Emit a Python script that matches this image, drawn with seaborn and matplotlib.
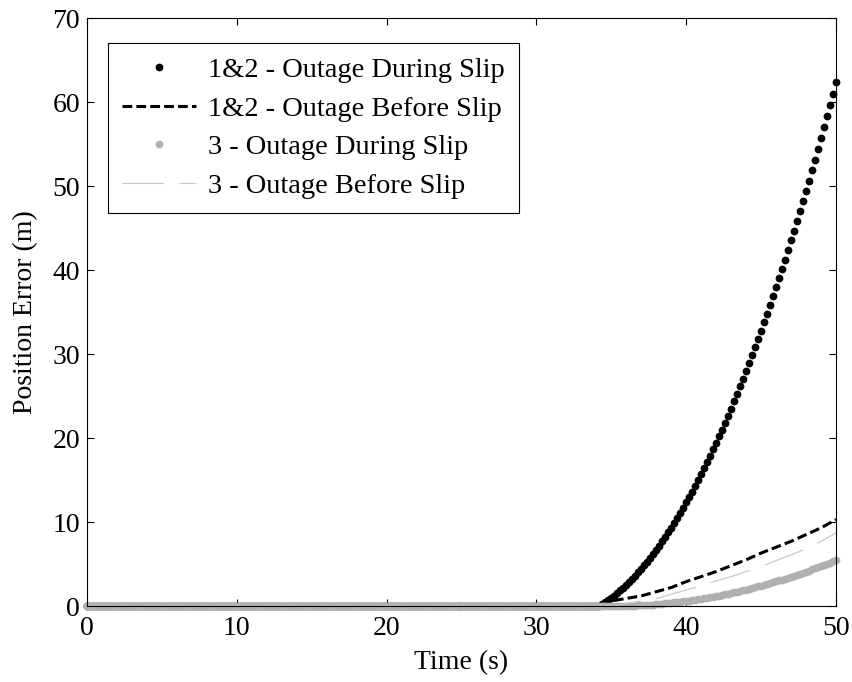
import numpy as np
import matplotlib
matplotlib.use("Agg")
import matplotlib.pyplot as plt
import seaborn as sns

# ---------------- data ----------------
# dotted series sampled every 0.2 s from 0 to 50 s
time_dots = np.round(np.arange(0, 251) * 0.2, 1)

# 1&2 - Outage During Slip : zero until 34.2 s, then values for 34.4 .. 50.0 s
s12_during_rise = [
    0.22, 0.46, 0.71, 0.97, 1.25, 1.55, 1.86, 2.18, 2.52, 2.87,
    3.24, 3.62, 4.01, 4.42, 4.85, 5.29, 5.74, 6.21, 6.69, 7.19,
    7.70, 8.23, 8.77, 9.33, 9.90, 10.49, 11.09, 11.70, 12.33, 12.97,
    13.63, 14.30, 14.99, 15.69, 16.41, 17.14, 17.88, 18.64, 19.42, 20.21,
    21.01, 21.83, 22.66, 23.51, 24.37, 25.25, 26.14, 27.05, 27.97, 28.90,
    29.85, 30.81, 31.79, 32.78, 33.79, 34.81, 35.85, 36.90, 37.97, 39.05,
    40.14, 41.25, 42.38, 43.52, 44.67, 45.84, 47.02, 48.22, 49.43, 50.65,
    51.89, 53.15, 54.42, 55.70, 57.00, 58.31, 59.64, 60.98, 62.34,
]
s12_during = [0.0] * 172 + s12_during_rise

# 3 - Outage During Slip : zero until 35.8 s, then values for 36.0 .. 50.0 s
s3_during_rise = [
    0.00, 0.01, 0.03, 0.04, 0.06, 0.08, 0.10, 0.12, 0.15, 0.17,
    0.20, 0.23, 0.27, 0.30, 0.34, 0.38, 0.42, 0.46, 0.50, 0.55,
    0.60, 0.65, 0.70, 0.75, 0.81, 0.87, 0.93, 0.99, 1.05, 1.12,
    1.18, 1.25, 1.33, 1.40, 1.47, 1.55, 1.63, 1.71, 1.79, 1.88,
    1.96, 2.05, 2.14, 2.23, 2.33, 2.43, 2.52, 2.62, 2.72, 2.83,
    2.93, 3.04, 3.15, 3.26, 3.38, 3.49, 3.61, 3.73, 3.85, 3.97,
    4.10, 4.22, 4.35, 4.48, 4.62, 4.75, 4.89, 5.03, 5.17, 5.31,
    5.45,
]
s3_during = [0.0] * 180 + s3_during_rise

# line series
time_lines = [0, 34, 35, 36, 37, 38, 39, 40, 41, 42, 43, 44, 45, 46, 47, 48, 49, 50]
s12_before = [0, 0.0, 0.6, 0.9, 1.2, 1.7, 2.2, 2.9, 3.5, 4.1, 4.8, 5.5, 6.3, 7.0, 7.7, 8.5, 9.3, 10.3]
s3_before = [0, 0.0, 0.0, 0.3, 0.6, 0.9, 1.4, 1.9, 2.4, 3.0, 3.5, 4.1, 4.7, 5.4, 6.1, 6.8, 7.7, 8.7]

labels = ["1&2 - Outage During Slip", "1&2 - Outage Before Slip",
          "3 - Outage During Slip", "3 - Outage Before Slip"]
x_ticks = [0, 10, 20, 30, 40, 50]
y_ticks = [0, 10, 20, 30, 40, 50, 60, 70]

# ---------------- style ----------------
sns.set_theme(style="white")
plt.rcParams["font.family"] = ["Liberation Serif", "DejaVu Serif"]
plt.rcParams["lines.scale_dashes"] = False
plt.rcParams["text.color"] = "black"
plt.rcParams["axes.labelcolor"] = "black"
plt.rcParams["xtick.color"] = "black"
plt.rcParams["ytick.color"] = "black"

fig = plt.figure(figsize=(8.53, 6.82), dpi=100)
ax = fig.add_axes([87 / 853, 1 - 606 / 682, 749 / 853, 588 / 682])

grey_dot = "#b0b0b0"
grey_line = "#c4c4c4"
msize = 5.6

sns.lineplot(x=time_dots, y=s12_during, ax=ax, color="black", linestyle="none",
             marker="o", markersize=msize, markeredgewidth=0, label=labels[0],
             clip_on=False, sort=False)
sns.lineplot(x=time_lines, y=s12_before, ax=ax, color="black", linewidth=2.2,
             linestyle=(0, (7.0, 3.0)), label=labels[1], sort=False)
sns.lineplot(x=time_dots, y=s3_during, ax=ax, color=grey_dot, linestyle="none",
             marker="o", markersize=msize, markeredgewidth=0, label=labels[2],
             clip_on=False, sort=False)
sns.lineplot(x=time_lines, y=s3_before, ax=ax, color=grey_line, linewidth=0.8,
             linestyle=(0, (30, 11)), label=labels[3], sort=False)

ax.set_xlim(0, 50)
ax.set_ylim(0, 70)
ax.set_xticks(x_ticks)
ax.set_yticks(y_ticks)
ax.set_xticklabels([str(v) for v in x_ticks])
ax.set_yticklabels([str(v) for v in y_ticks])
ax.tick_params(direction="in", length=5, width=0.8, top=True, right=True,
               bottom=True, left=True, labelsize=20, colors="black", pad=5)
ax.tick_params(axis="x", pad=7)
for sp in ax.spines.values():
    sp.set_color("black")
    sp.set_linewidth(0.8)

ax.set_xlabel("Time (s)", fontsize=20, labelpad=7, color="black")
ax.set_ylabel("Position Error (m)", fontsize=20, labelpad=10, color="black")

leg = ax.legend(loc="upper left", bbox_to_anchor=(0.028, 0.957), fontsize=20.5,
                frameon=True, fancybox=False, edgecolor="black", framealpha=1,
                handlelength=2.6, handletextpad=0.4, borderpad=0.5,
                labelspacing=0.44, borderaxespad=0, numpoints=1,
                labelcolor="black")
leg.get_frame().set_linewidth(0.8)

fig.savefig("out.png", dpi=100)
